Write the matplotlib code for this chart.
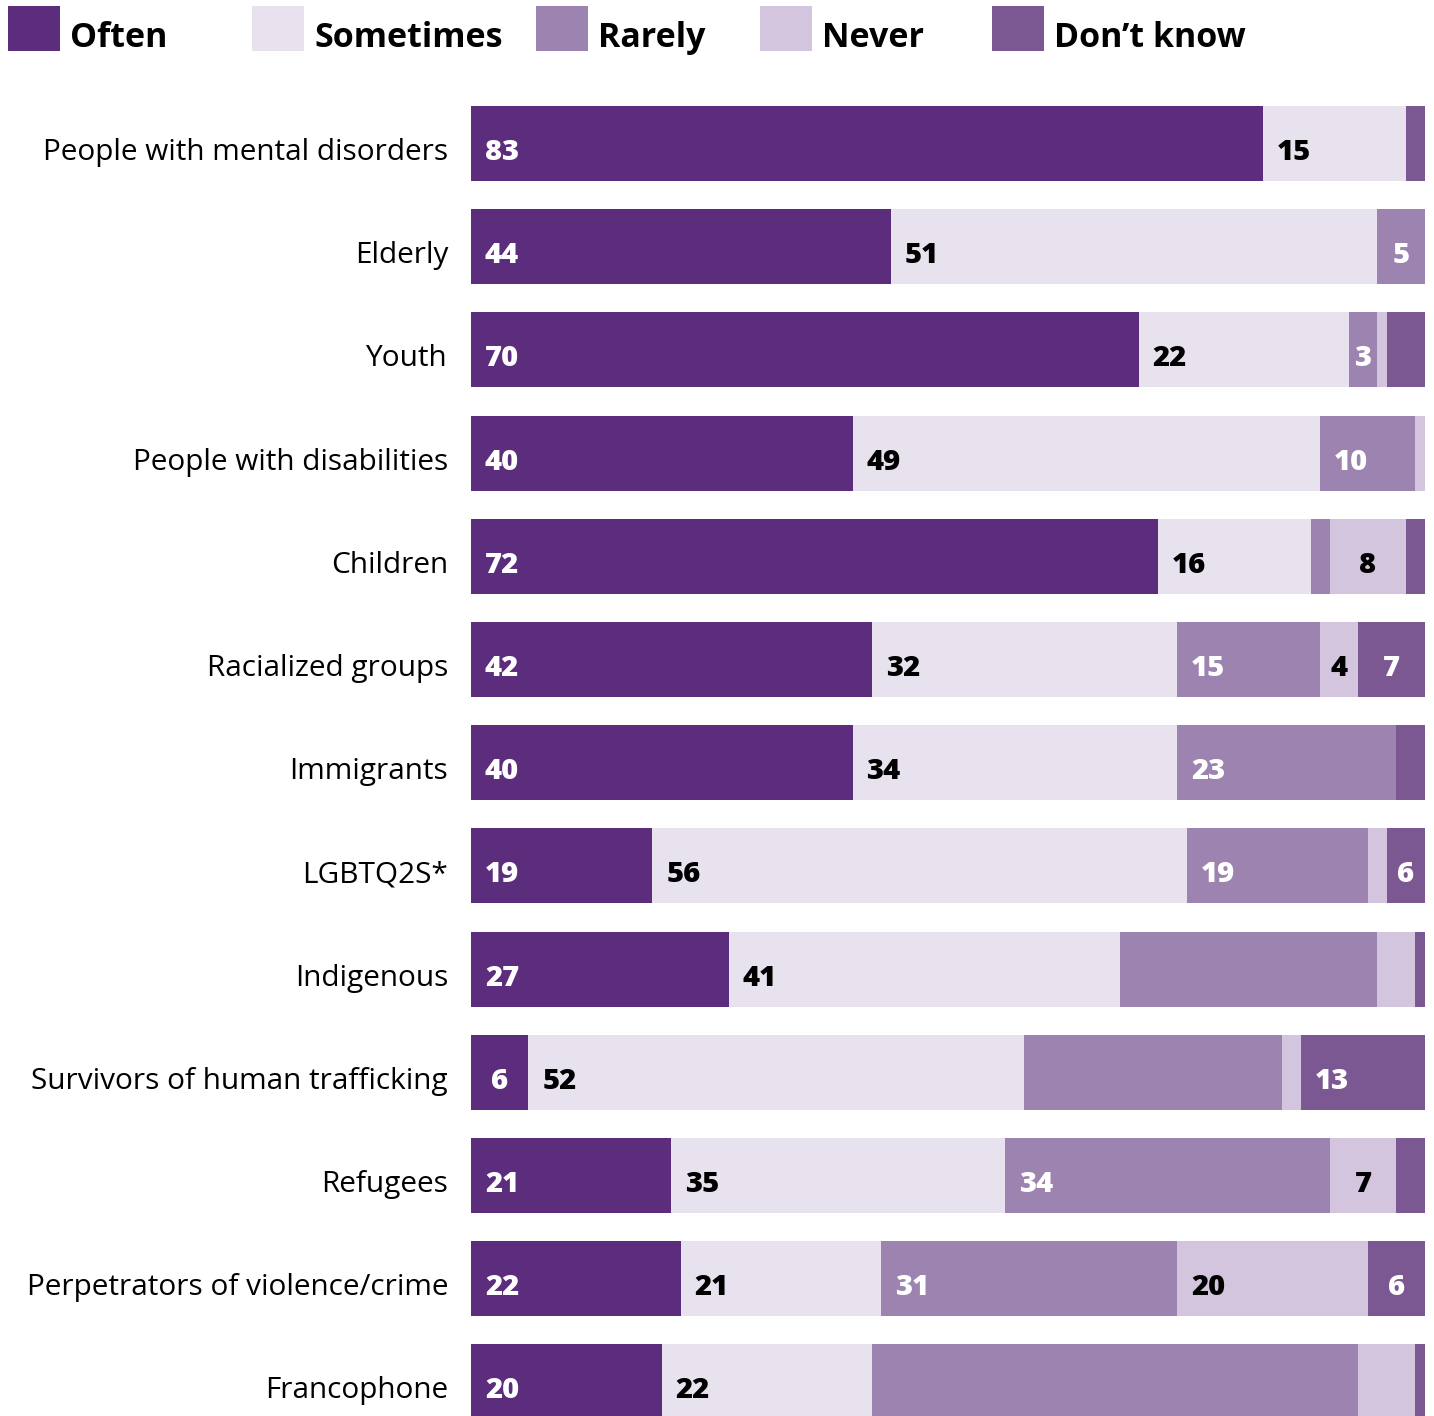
import numpy as np
import matplotlib
matplotlib.use('Agg')
import matplotlib.pyplot as plt
from matplotlib.patches import Rectangle

plt.rcParams['font.family'] = ['Open Sans', 'DejaVu Sans']

groups = ['People with mental disorders', 'Elderly', 'Youth', 'People with disabilities',
          'Children', 'Racialized groups', 'Immigrants', 'LGBTQ2S*', 'Indigenous',
          'Survivors of human trafficking', 'Refugees', 'Perpetrators of violence/crime',
          'Francophone']
answers = ['Often', 'Sometimes', 'Rarely', 'Never', 'Don\u2019t know']
colors = ['#5c2d7c', '#e8e2ee', '#9d83b0', '#d3c5dd', '#7c5893']
text_colors = ['white', 'black', 'white', 'black', 'white']

often     = [83, 44, 70, 40, 72, 42, 40, 19, 27,  6, 21, 22, 20]
sometimes = [15, 51, 22, 49, 16, 32, 34, 56, 41, 52, 35, 21, 22]
rarely    = [ 0,  5,  3, 10,  2, 15, 23, 19, 27, 27, 34, 31, 51]
never     = [ 0,  0,  1,  1,  8,  4,  0,  2,  4,  2,  7, 20,  6]
dont_know = [ 2,  0,  4,  0,  2,  7,  3,  6,  1, 13,  3,  6,  1]

# which segments carry a number (1 = labelled)
labelled = [
    [1, 1, 0, 0, 0],
    [1, 1, 1, 0, 0],
    [1, 1, 1, 0, 0],
    [1, 1, 1, 0, 0],
    [1, 1, 0, 1, 0],
    [1, 1, 1, 1, 1],
    [1, 1, 1, 0, 0],
    [1, 1, 1, 0, 1],
    [1, 1, 0, 0, 0],
    [1, 1, 0, 0, 1],
    [1, 1, 1, 1, 0],
    [1, 1, 1, 1, 1],
    [1, 1, 0, 0, 0],
]

data = np.array([often, sometimes, rarely, never, dont_know]).T

W, H = 1434, 1416
fig = plt.figure(figsize=(W / 100, H / 100), dpi=100)

bar_h = 0.727
pitch = 103.2  # px per row
top = -bar_h / 2
bottom = top + (H - 106) / pitch
ax = fig.add_axes([471 / W, 0, 954 / W, 1 - 106 / H])
ax.set_xlim(0, 100)
ax.set_ylim(bottom, top)

y = np.arange(len(groups))
dy = -6.5  # text sits a little below bar centre
left = np.zeros(len(groups))
for k in range(len(answers)):
    ax.barh(y, data[:, k], left=left, height=bar_h, color=colors[k], linewidth=0)
    for i in range(len(groups)):
        v = data[i, k]
        if not labelled[i][k]:
            continue
        if v < 10:
            cx = (left[i] + min(left[i] + v, 100)) / 2
            ax.annotate(str(v), (cx, y[i]), xytext=(0, dy), textcoords='offset points',
                        ha='center', va='center', color=text_colors[k],
                        fontsize=21, fontweight='heavy')
        else:
            ax.annotate(str(v), (left[i], y[i]), xytext=(10, dy), textcoords='offset points',
                        ha='left', va='center', color=text_colors[k],
                        fontsize=21, fontweight='heavy')
    left = left + data[:, k]

# category names to the left of the bars
for i, g in enumerate(groups):
    ax.annotate(g, (0, y[i]), xytext=(-16.5, dy), textcoords='offset points',
                ha='right', va='center', fontsize=21.4, color='black')

ax.set_xticks([])
ax.set_yticks([])
for s in ax.spines.values():
    s.set_visible(False)

# legend across the top
sw_x = [8, 252, 536, 760, 992]
for k, name in enumerate(answers):
    fig.patches.append(Rectangle((sw_x[k] / W, 1 - 51 / H), 52 / W, 45 / H,
                                 transform=fig.transFigure, color=colors[k], linewidth=0))
    fig.text((sw_x[k] + 62) / W, 1 - 47 / H, name, fontsize=24.5, fontweight='bold',
             ha='left', va='baseline')

fig.savefig('out.png', dpi=100)
